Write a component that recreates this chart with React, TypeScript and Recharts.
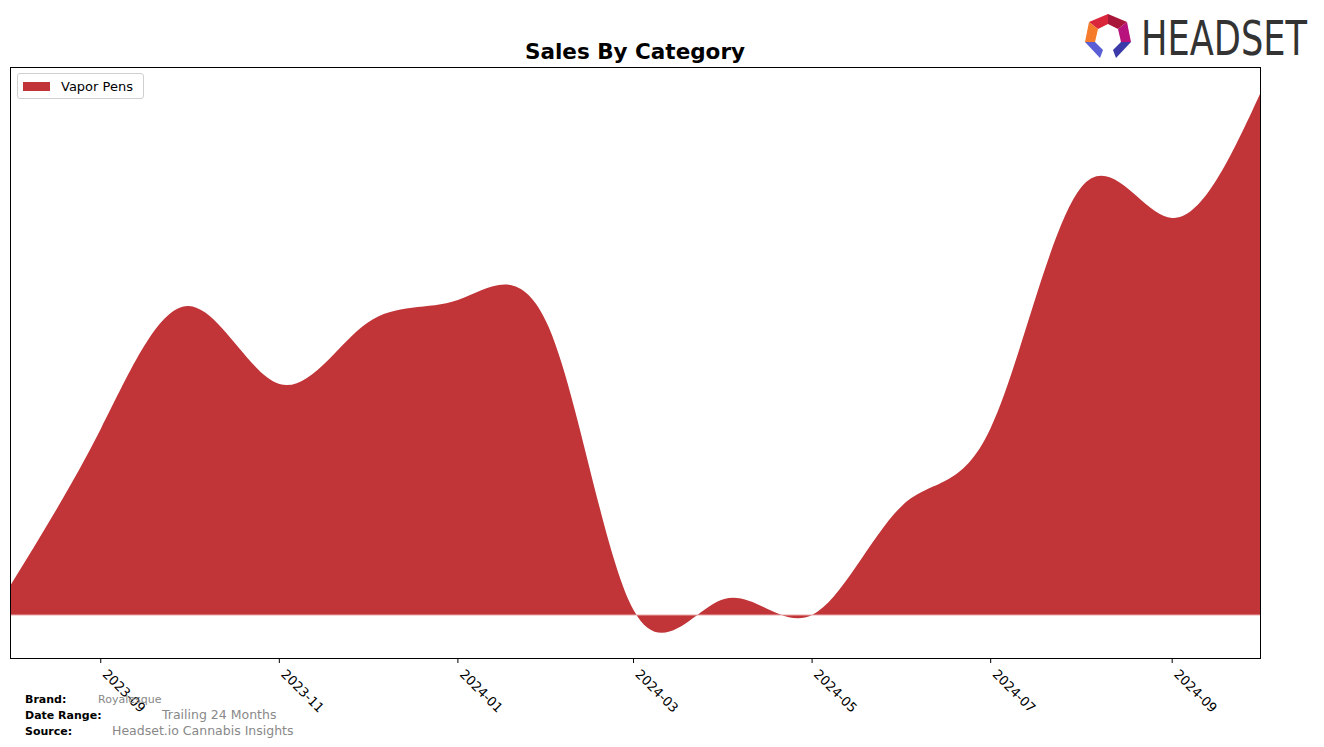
import { AreaChart, Area, XAxis, YAxis, ReferenceLine } from 'recharts'

const months = [
  '2023-08', '2023-09', '2023-10', '2023-11', '2023-12', '2024-01', '2024-02', '2024-03',
  '2024-04', '2024-05', '2024-06', '2024-07', '2024-08', '2024-09', '2024-10',
]
const vaporPens = [2900, 18600, 30900, 23100, 29200, 31500, 28800, 500, 1600, 0, 11000, 18700, 42800, 39700, 52100]
const tickMonths = ['2023-09', '2023-11', '2024-01', '2024-03', '2024-05', '2024-07', '2024-09']

const RED = '#c13437'
const FONT = '"DejaVu Sans", sans-serif'

const dayOf = (m: string) => {
  const [y, mo] = m.split('-').map(Number)
  return Date.UTC(y, mo - 1, 1) / 86400000
}
const base = dayOf(months[0])

const chartData = months.map((m, i) => ({ t: dayOf(m) - base, month: m, value: vaporPens[i] }))
const ticks = tickMonths.map((m) => dayOf(m) - base)
const labelFor = (t: number) => tickMonths[ticks.indexOf(t)] ?? ''

function AngledTick({ x, y, payload }: any) {
  return (
    <text
      x={x + 1}
      y={y + 10}
      transform={`rotate(45 ${x + 1} ${y + 10})`}
      textAnchor="start"
      fontSize={13}
      fontFamily={FONT}
      fill="#000"
    >
      {labelFor(payload.value)}
    </text>
  )
}

function LegendBox() {
  return (
    <div
      style={{
        position: 'absolute',
        left: 17,
        top: 73,
        width: 127,
        height: 26,
        border: '1px solid #d0d0d0',
        borderRadius: 3,
        background: '#fff',
        display: 'flex',
        alignItems: 'center',
        boxSizing: 'border-box',
        fontFamily: FONT,
        fontSize: 13,
      }}
    >
      <span style={{ display: 'inline-block', width: 27, height: 9, background: RED, marginLeft: 5 }} />
      <span style={{ marginLeft: 11, color: '#000' }}>Vapor Pens</span>
    </div>
  )
}

function Logo() {
  return (
    <g>
      <polygon points="1089,22 1108,14 1108,24 1098,29" fill="#d9263b" />
      <polygon points="1108,14 1127,22 1118,29 1108,24" fill="#a8173a" />
      <polygon points="1127,22 1131,42 1121,42 1118,29" fill="#b8137c" />
      <polygon points="1089,22 1098,29 1095,42 1085,42" fill="#f47c2a" />
      <polygon points="1085,42 1095,42 1103,50 1100,58" fill="#5b5fd6" />
      <polygon points="1131,42 1121,42 1113,50 1116,58" fill="#3b3aa8" />
      <g transform="translate(1141 55) scale(1 1.4)">
        <text
          x={0}
          y={0}
          fontFamily='"Liberation Sans Narrow", "DejaVu Sans", sans-serif'
          fontSize={34}
          fill="#333"
          textLength={166}
          lengthAdjust="spacingAndGlyphs"
        >
          HEADSET
        </text>
      </g>
    </g>
  )
}

export default function App() {
  return (
    <div style={{ position: 'fixed', left: 0, top: 0, width: 1324, height: 747, background: '#fff' }}>
      <AreaChart
        width={1324}
        height={747}
        data={chartData}
        margin={{ top: 67, right: 64, left: 10, bottom: 59 }}
      >
        <XAxis
          dataKey="t"
          type="number"
          domain={[0, chartData[chartData.length - 1].t]}
          ticks={ticks}
          tick={<AngledTick />}
          tickSize={5}
          axisLine={false}
          tickLine={{ stroke: '#000' }}
          height={30}
          interval={0}
        />
        <YAxis hide domain={[-4300, 54800]} />
        <Area
          type="natural"
          dataKey="value"
          name="Vapor Pens"
          stroke="none"
          fill={RED}
          fillOpacity={1}
          baseValue={0}
          isAnimationActive={false}
          dot={false}
          activeDot={false}
        />
        <ReferenceLine y={0} stroke="#e9a9aa" strokeWidth={1} />
      </AreaChart>
      <LegendBox />
      <svg
        width={1324}
        height={747}
        style={{ position: 'absolute', left: 0, top: 0, pointerEvents: 'none' }}
      >
        <rect x={10.5} y={67.5} width={1250} height={591} fill="none" stroke="#000" strokeWidth={1} />
        <text x={635} y={59} textAnchor="middle" fontFamily={FONT} fontWeight="bold" fontSize={21.5} fill="#000">
          Sales By Category
        </text>
        <Logo />
        <g fontFamily={FONT}>
          <text x={25} y={703} fontSize={11} fontWeight="bold" fill="#000">Brand:</text>
          <text x={98} y={703} fontSize={11} fill="#888">Royalesque</text>
          <text x={25} y={719} fontSize={11} fontWeight="bold" fill="#000">Date Range:</text>
          <text x={162} y={719} fontSize={12.5} fill="#888">Trailing 24 Months</text>
          <text x={25} y={735} fontSize={11} fontWeight="bold" fill="#000">Source:</text>
          <text x={112} y={735} fontSize={12.5} fill="#888">Headset.io Cannabis Insights</text>
        </g>
      </svg>
    </div>
  )
}
